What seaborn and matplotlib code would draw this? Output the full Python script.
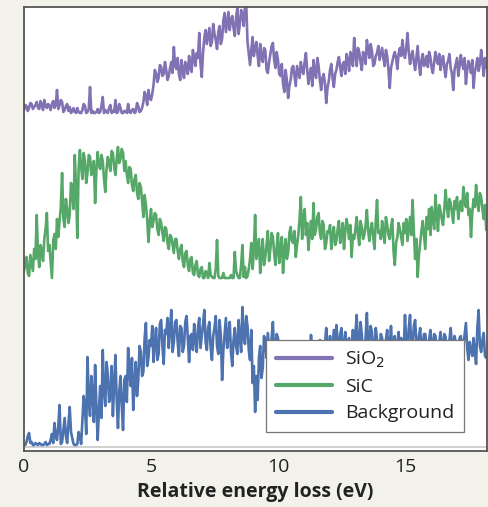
import numpy as np
import pandas as pd
import matplotlib
matplotlib.use("Agg")
import matplotlib.pyplot as plt
import seaborn as sns

# ---- data (read/estimated from the reference picture) ----
energy_start = 0.0
energy_step = 0.05

sio2 = [4, 9, 8, 3, 6, 11, 10, 5, 7, 9, 12, 6, 5, 13, 9, 4, 14, 8, 6, 10,
        8, 4, 10, 13, 6, 9, 24, 5, 9, 14, 12, 2, 4, 8, 10, 3, 7, 1, 3, 6,
        2, 1, 6, 2, 1, 1, 4, 10, 8, 1, 2, 5, 27, 1, 3, 1, 1, 2, 5, 1,
        2, 8, 17, 1, 4, 2, 1, 6, 9, 1, 3, 2, 14, 1, 2, 10, 6, 1, 1, 3,
        3, 1, 10, 2, 1, 4, 5, 1, 2, 11, 8, 2, 3, 6, 12, 22, 18, 9, 24, 16,
        14, 20, 29, 44, 41, 32, 36, 49, 47, 38, 40, 52, 44, 34, 38, 46, 52, 41, 67, 48,
        45, 56, 40, 34, 54, 44, 36, 52, 48, 40, 58, 46, 42, 64, 55, 48, 61, 56, 81, 50,
        37, 62, 76, 84, 70, 78, 86, 68, 72, 90, 80, 74, 65, 82, 88, 70, 75, 94, 101, 82,
        92, 102, 84, 94, 98, 86, 78, 96, 106, 80, 90, 104, 100, 88, 107, 110, 72, 60, 49, 64,
        77, 58, 66, 72, 58, 48, 70, 56, 52, 66, 64, 44, 41, 52, 60, 68, 71, 54, 46, 62,
        54, 40, 38, 50, 30, 22, 44, 34, 16, 28, 34, 46, 48, 38, 28, 48, 42, 36, 52, 44,
        40, 52, 61, 44, 30, 40, 46, 28, 54, 42, 36, 56, 48, 34, 24, 36, 40, 30, 11, 26,
        33, 44, 50, 36, 27, 40, 44, 52, 57, 46, 38, 50, 52, 40, 60, 54, 43, 62, 58, 48,
        76, 60, 48, 66, 62, 52, 44, 62, 58, 50, 74, 64, 56, 70, 63, 48, 50, 58, 61, 68,
        54, 60, 66, 56, 48, 64, 58, 44, 26, 46, 52, 58, 62, 56, 45, 60, 66, 58, 74, 62,
        56, 66, 81, 62, 50, 58, 63, 52, 44, 56, 68, 50, 39, 54, 60, 48, 52, 58, 47, 62,
        57, 46, 41, 52, 62, 54, 50, 60, 44, 52, 58, 46, 37, 50, 53, 60, 46, 40, 24, 44,
        50, 56, 38, 48, 59, 50, 45, 56, 30, 44, 53, 48, 41, 54, 26, 42, 48, 56, 43, 50,
        64, 52, 38, 56, 46]

sic = [8, 16, 22, 6, 3, 24, 16, 8, 30, 20, 64, 26, 12, 34, 28, 18, 40, 50, 66, 28,
       34, 18, 1, 38, 45, 30, 60, 42, 58, 72, 106, 60, 52, 80, 70, 56, 64, 96, 88, 70,
       124, 90, 41, 110, 129, 112, 100, 126, 118, 96, 106, 124, 122, 104, 112, 118, 76, 108, 127, 114,
       110, 124, 118, 100, 87, 110, 122, 116, 108, 128, 126, 112, 104, 120, 132, 116, 120, 130, 126, 108,
       118, 104, 96, 112, 110, 94, 88, 100, 104, 86, 80, 96, 92, 78, 62, 84, 74, 60, 37, 56,
       70, 52, 58, 66, 64, 50, 44, 60, 56, 46, 38, 52, 50, 36, 30, 44, 42, 34, 26, 40,
       40, 28, 20, 30, 34, 18, 12, 26, 28, 14, 8, 20, 22, 6, 4, 14, 18, 4, 2, 10,
       12, 1, 1, 8, 6, 1, 16, 4, 2, 1, 1, 10, 39, 3, 1, 1, 1, 6, 1, 1,
       1, 1, 1, 4, 1, 1, 27, 8, 4, 1, 1, 14, 34, 2, 12, 1, 3, 10, 20, 36,
       10, 28, 64, 20, 30, 40, 6, 24, 40, 14, 22, 34, 48, 18, 30, 46, 42, 26, 14, 32,
       46, 16, 30, 42, 6, 28, 40, 20, 26, 46, 52, 38, 36, 48, 22, 34, 44, 60, 82, 40,
       60, 70, 44, 56, 29, 46, 58, 40, 76, 44, 50, 62, 66, 46, 40, 58, 54, 30, 36, 48,
       46, 54, 30, 44, 52, 34, 38, 50, 58, 36, 44, 56, 30, 48, 60, 52, 40, 54, 22, 44,
       40, 50, 62, 44, 34, 58, 52, 40, 44, 54, 69, 48, 38, 50, 56, 42, 30, 58, 79, 46,
       48, 40, 58, 46, 36, 62, 54, 44, 40, 52, 60, 28, 14, 36, 42, 56, 50, 42, 34, 56,
       46, 60, 38, 50, 62, 44, 79, 48, 20, 40, 2, 24, 36, 48, 58, 44, 30, 62, 50, 70,
       44, 72, 60, 50, 84, 64, 48, 74, 68, 60, 54, 70, 89, 72, 62, 80, 76, 66, 56, 78,
       70, 82, 60, 72, 78, 68, 92, 78, 72, 86, 64, 70, 42, 66, 80, 72, 94, 76, 68, 86,
       82, 70, 60, 74, 49]

background = [2, 1, 4, 10, 13, 3, 4, 1, 1, 3, 2, 1, 3, 2, 1, 1, 2, 4, 1, 2,
              2, 6, 12, 3, 23, 10, 6, 20, 41, 2, 4, 16, 28, 10, 3, 22, 39, 14, 8, 2,
              1, 1, 2, 14, 10, 2, 26, 50, 40, 12, 89, 46, 30, 70, 52, 24, 81, 40, 6, 36,
              60, 28, 96, 56, 40, 84, 72, 44, 50, 80, 30, 62, 91, 46, 18, 54, 70, 40, 16, 66,
              70, 44, 98, 74, 60, 88, 36, 62, 84, 50, 66, 100, 94, 70, 74, 108, 123, 80, 88, 106,
              100, 120, 84, 104, 118, 86, 92, 122, 126, 100, 82, 116, 112, 128, 98, 118, 136, 94, 104, 124,
              126, 104, 90, 120, 118, 94, 100, 124, 130, 108, 84, 110, 112, 96, 122, 106, 94, 118, 128, 98,
              110, 122, 136, 104, 96, 118, 124, 98, 86, 110, 118, 130, 100, 92, 126, 110, 66, 96, 112, 128,
              98, 112, 124, 94, 80, 106, 118, 100, 92, 126, 108, 94, 139, 110, 102, 130, 120, 96, 86, 116,
              63, 80, 34, 70, 46, 88, 100, 68, 78, 110, 106, 88, 113, 98, 84, 108, 124, 90, 96, 112,
              108, 88, 80, 104, 100, 84, 70, 96, 95, 82, 104, 90, 76, 100, 98, 80, 86, 102, 92, 96,
              90, 104, 82, 96, 100, 84, 111, 92, 78, 102, 96, 86, 88, 106, 104, 90, 92, 100, 118, 94,
              96, 110, 84, 100, 116, 96, 121, 104, 90, 112, 118, 92, 100, 114, 86, 104, 108, 90, 96, 116,
              90, 112, 131, 96, 100, 124, 112, 92, 86, 108, 133, 100, 104, 120, 114, 96, 94, 118, 106, 98,
              96, 112, 108, 92, 88, 106, 116, 94, 100, 120, 92, 104, 110, 90, 98, 114, 86, 108, 104, 94,
              131, 104, 98, 118, 131, 96, 100, 120, 126, 102, 92, 110, 118, 94, 100, 112, 112, 98, 88, 106,
              116, 100, 96, 112, 110, 94, 88, 104, 114, 96, 100, 112, 109, 90, 92, 106, 118, 100, 96, 110,
              104, 94, 90, 108, 110, 96, 100, 112, 123, 98, 86, 104, 96, 90, 108, 94, 82, 118, 136, 100,
              94, 106, 113, 90, 88]

series_names = ["SiO$_2$", "SiC", "Background"]
series_offsets = [337, 172, 5]
series_colors = ["#8172b3", "#55a868", "#4c72b0"]
xticks = [0, 5, 10, 15]
xlabel = "Relative energy loss (eV)"

# ---- build table ----
frames = []
for name, vals, off in zip(series_names, [sio2, sic, background], series_offsets):
    energy = energy_start + energy_step * np.arange(len(vals))
    frames.append(pd.DataFrame({"energy": energy,
                                "signal": np.asarray(vals, float) + off,
                                "series": name}))
df = pd.concat(frames, ignore_index=True)

# ---- plot ----
sns.set_theme(style="white")
plt.rcParams["font.family"] = ["Open Sans", "DejaVu Sans"]

bg = "#f3f2ea"
fig = plt.figure(figsize=(4.88, 5.07), dpi=100, facecolor=bg)
ax = fig.add_axes([24 / 488, 56 / 507, 463 / 488, 444 / 507])
ax.set_facecolor("white")

ax.axhline(4, color="#c8c8c8", lw=1.2, zorder=1)

sns.lineplot(data=df, x="energy", y="signal", hue="series",
             hue_order=series_names, palette=series_colors,
             estimator=None, sort=False, lw=1.9, ax=ax, zorder=2)

ax.set_xlim(0, 18.23)
ax.set_ylim(0, 444)
ax.set_xticks(xticks)
ax.set_xticklabels([str(t) for t in xticks], fontsize=14, color="#222222")
ax.tick_params(axis="x", length=0, pad=5)
ax.set_yticks([])
ax.set_ylabel("")
ax.set_xlabel(xlabel, fontsize=14, fontweight="bold", color="#222222", labelpad=4)

for side, sp in ax.spines.items():
    sp.set_visible(True)
    sp.set_color("#555555")
    sp.set_linewidth(1.3)

handles, labels = ax.get_legend_handles_labels()
for h in handles:
    h.set_linewidth(3)
leg = ax.legend(handles, labels, loc="upper left", bbox_to_anchor=(0.523, 0.25),
                borderaxespad=0, frameon=True, fancybox=False, fontsize=14,
                handlelength=2.9, handletextpad=0.65, labelspacing=0.42,
                borderpad=0.5, facecolor="white", edgecolor="#777777",
                framealpha=1)
for t in leg.get_texts():
    t.set_color("#222222")
leg.get_frame().set_linewidth(0.9)
leg.set_zorder(5)

fig.savefig("out.png", dpi=100, facecolor=bg)
